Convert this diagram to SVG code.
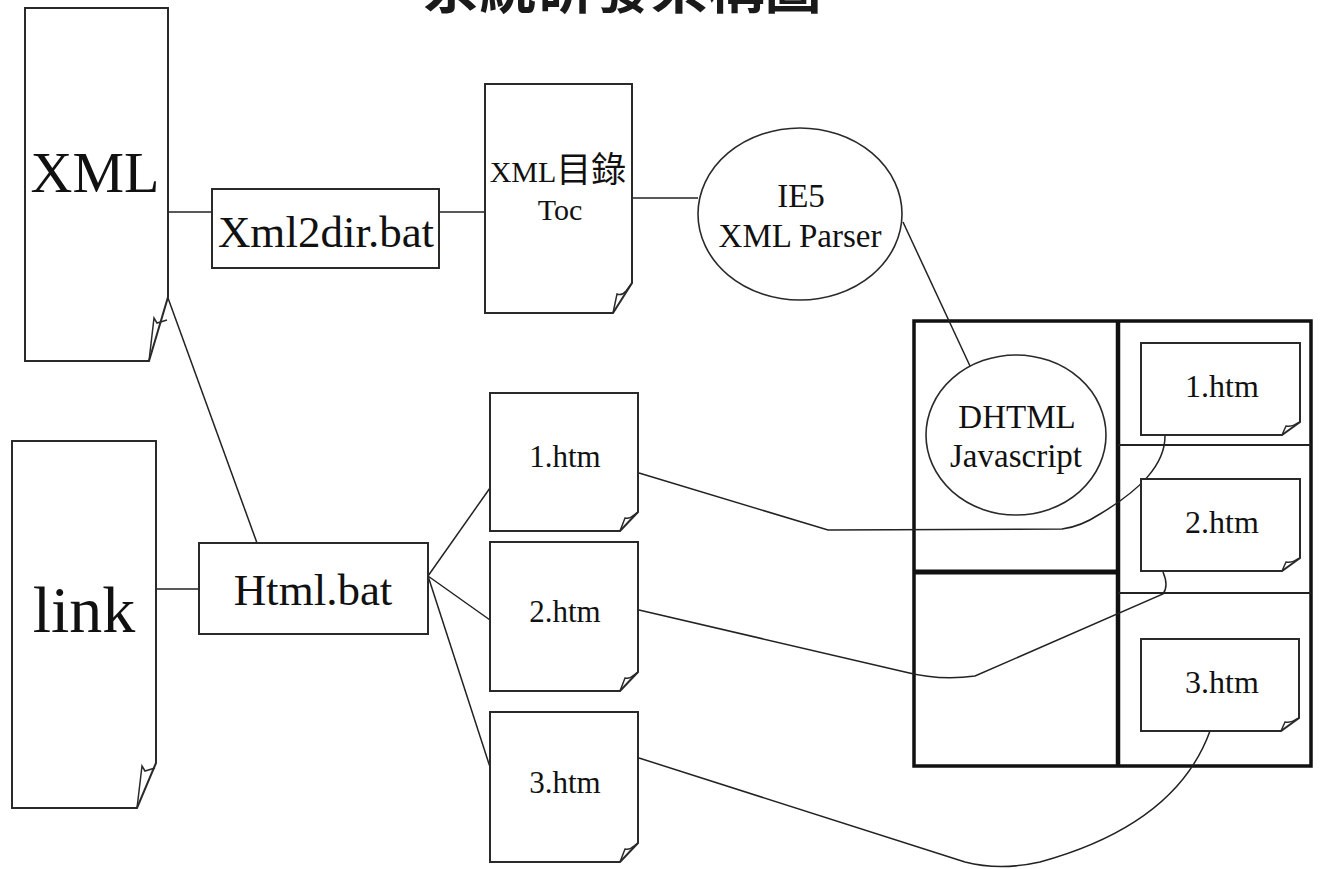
<svg xmlns="http://www.w3.org/2000/svg" width="1321" height="869" viewBox="0 0 1321 869">
<defs>
<style>
.doc{fill:#fff;stroke:#2a2a2a;stroke-width:2}
.fold{fill:none;stroke:#2a2a2a;stroke-width:1.5}
.box{fill:#fff;stroke:#2a2a2a;stroke-width:2}
.ell{fill:#fff;stroke:#2a2a2a;stroke-width:1.6}
.con{fill:none;stroke:#222;stroke-width:1.5}
.t{font-family:"Liberation Serif","Noto Sans CJK TC",serif;fill:#111;text-anchor:middle}
.frame{fill:none;stroke:#111;stroke-width:3.5}
</style>
</defs>
<rect width="1321" height="869" fill="#fff"/>

<g id="title">
<text x="622" y="8" font-family="'Noto Sans CJK TC',sans-serif" font-weight="bold" font-size="57" fill="#1a1a1a" text-anchor="middle">系統研發架構圖</text>
</g>

<g id="frame">
<rect class="frame" x="914" y="321" width="397" height="445"/>
<line x1="1118" y1="321" x2="1118" y2="766" stroke="#111" stroke-width="4.5"/>
<line x1="914" y1="572" x2="1118" y2="572" stroke="#111" stroke-width="5"/>
<line x1="1118" y1="445" x2="1311" y2="445" stroke="#222" stroke-width="2"/>
<line x1="1118" y1="593" x2="1311" y2="593" stroke="#222" stroke-width="2"/>
</g>

<g id="connectors">
<line class="con" x1="168" y1="212" x2="212" y2="212"/>
<line class="con" x1="439" y1="212" x2="486" y2="212"/>
<line class="con" x1="632" y1="198" x2="698" y2="198"/>
<line class="con" x1="903" y1="222" x2="970" y2="366"/>
<line class="con" x1="168" y1="298" x2="257" y2="543"/>
<line class="con" x1="156" y1="589" x2="199" y2="589"/>
<line class="con" x1="428" y1="576" x2="490" y2="488"/>
<line class="con" x1="428" y1="576" x2="490" y2="620"/>
<line class="con" x1="428" y1="576" x2="490" y2="767"/>
<path class="con" d="M639,473 L828,530 L1062,529 Q1080,527 1100,514 C1140,490 1165,465 1165,436"/>
<path class="con" d="M639,610 L905,672 Q940,681 975,676 L1163,594 Q1169,586 1163,572"/>
<path class="con" d="M639,758 L965,862 Q1000,871 1040,862 C1120,840 1185,800 1210,731"/>
</g>

<g id="node-xml">
<path class="doc" d="M25,8 H168 V297 L149,361 H25 Z"/>
<path class="fold" d="M149,361 L154,318 L157,323 L167,320"/>
<text class="t" x="95" y="192" font-size="58">XML</text>
</g>

<g id="node-xml2dir">
<rect class="box" x="212" y="189" width="227" height="79"/>
<text class="t" x="326" y="247" font-size="45">Xml2dir.bat</text>
</g>

<g id="node-toc">
<path class="doc" d="M485,84 H632 V283 L613,313 H485 Z"/>
<path class="fold" d="M613,313 L617,294 Q622,296 626,291 L632,283"/>
<text class="t" x="558" y="182" font-size="30">XML<tspan font-size="35">目錄</tspan></text>
<text class="t" x="560" y="220" font-size="30">Toc</text>
</g>

<g id="node-ie5">
<ellipse class="ell" cx="800" cy="214" rx="102" ry="86"/>
<text class="t" x="801" y="207" font-size="33">IE5</text>
<text class="t" x="800" y="247" font-size="33">XML Parser</text>
</g>

<g id="node-link">
<path class="doc" d="M12,441 H156 V763 L137,808 H12 Z"/>
<path class="fold" d="M137,808 L142,766 L145,771 L155,768"/>
<text class="t" x="84" y="632" font-size="66">link</text>
</g>

<g id="node-htmlbat">
<rect class="box" x="199" y="543" width="229" height="91"/>
<text class="t" x="313" y="605" font-size="45">Html.bat</text>
</g>

<g id="node-1htm">
<path class="doc" d="M490,393 H638 V512 L620,531 H490 Z"/>
<path class="fold" d="M620,531 L625,518 Q630,519 634,515 L638,512"/>
<text class="t" x="565" y="467" font-size="31">1.htm</text>
</g>

<g id="node-2htm">
<path class="doc" d="M490,542 H638 V672 L620,691 H490 Z"/>
<path class="fold" d="M620,691 L625,678 Q630,679 634,675 L638,672"/>
<text class="t" x="565" y="622" font-size="31">2.htm</text>
</g>

<g id="node-3htm">
<path class="doc" d="M490,712 H638 V843 L620,862 H490 Z"/>
<path class="fold" d="M620,862 L625,849 Q630,850 634,846 L638,843"/>
<text class="t" x="565" y="793" font-size="31">3.htm</text>
</g>

<g id="node-dhtml">
<ellipse class="ell" cx="1016" cy="435" rx="90" ry="80"/>
<text class="t" x="1017" y="428" font-size="33">DHTML</text>
<text class="t" x="1016" y="467" font-size="33">Javascript</text>
</g>

<g id="node-r1htm">
<path class="doc" d="M1141,343 H1300 V422 L1282,435 H1141 Z"/>
<path class="fold" d="M1282,435 L1286,426 Q1292,427 1296,424 L1300,422"/>
<text class="t" x="1222" y="397" font-size="32">1.htm</text>
</g>

<g id="node-r2htm">
<path class="doc" d="M1141,479 H1300 V558 L1282,571 H1141 Z"/>
<path class="fold" d="M1282,571 L1286,562 Q1292,563 1296,560 L1300,558"/>
<text class="t" x="1222" y="533" font-size="32">2.htm</text>
</g>

<g id="node-r3htm">
<path class="doc" d="M1141,639 H1299 V718 L1281,731 H1141 Z"/>
<path class="fold" d="M1281,731 L1285,722 Q1291,723 1295,720 L1299,718"/>
<text class="t" x="1222" y="693" font-size="32">3.htm</text>
</g>
</svg>
